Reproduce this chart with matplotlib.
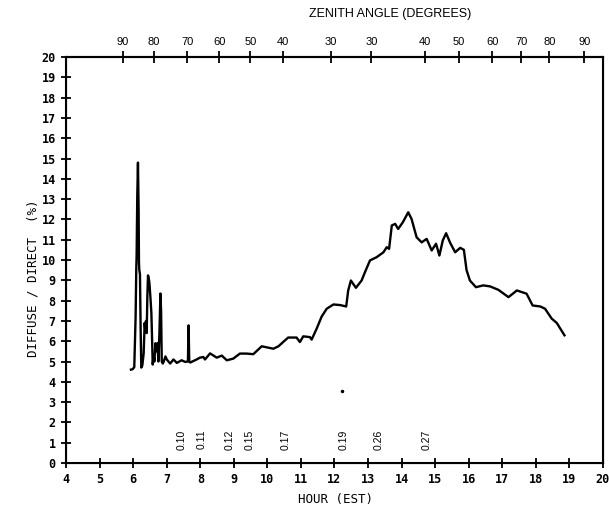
import matplotlib
matplotlib.use("Agg")
import matplotlib.pyplot as plt

# diffuse/direct ratio trace (hour EST, percent)
hours = [5.93, 5.98, 6.03, 6.07, 6.09, 6.10, 6.12, 6.14, 6.16, 6.17, 6.18, 6.20, 6.22, 6.24,
         6.27, 6.31, 6.34, 6.36, 6.38, 6.40, 6.42, 6.44, 6.46, 6.48, 6.51, 6.54, 6.56, 6.58,
         6.61, 6.63, 6.66, 6.69, 6.72, 6.75, 6.78, 6.81, 6.83, 6.85, 6.88, 6.91, 6.96, 7.00,
         7.05, 7.10, 7.20, 7.30, 7.44, 7.55, 7.63, 7.65, 7.67, 7.70, 7.89, 7.99, 8.09, 8.14,
         8.29, 8.49, 8.64, 8.79, 8.98, 9.18, 9.38, 9.58, 9.83, 10.03, 10.18, 10.33, 10.47,
         10.62, 10.87, 10.97, 11.07, 11.27, 11.32, 11.47, 11.62, 11.77, 11.97, 12.17, 12.35,
         12.41, 12.49, 12.64, 12.81, 12.91, 13.06, 13.26, 13.46, 13.56, 13.63, 13.71, 13.81,
         13.90, 14.04, 14.20, 14.30, 14.45, 14.60, 14.75, 14.90, 15.03, 15.13, 15.23, 15.33,
         15.45, 15.60, 15.75, 15.86, 15.94, 16.04, 16.22, 16.44, 16.64, 16.89, 17.19, 17.44,
         17.73, 17.91, 18.14, 18.28, 18.48, 18.63, 18.86]
ratio = [4.60, 4.62, 4.72, 7.2, 9.6, 10.2, 13.2, 14.8, 12.4, 9.9, 9.5, 9.3, 6.6, 4.7,
         4.8, 5.4, 6.9, 6.5, 7.0, 6.4, 8.2, 9.24, 9.1, 8.9, 8.2, 7.4, 6.2, 4.85,
         5.3, 5.0, 5.9, 5.5, 5.9, 5.0, 6.4, 8.35, 7.5, 5.0, 4.9, 5.0, 5.25, 5.1,
         5.0, 4.9, 5.1, 4.93, 5.06, 4.98, 5.0, 6.78, 5.0, 4.95, 5.1, 5.19, 5.22, 5.1,
         5.4, 5.19, 5.29, 5.06, 5.14, 5.39, 5.39, 5.36, 5.75, 5.68, 5.63, 5.75, 5.96,
         6.18, 6.18, 5.96, 6.24, 6.2, 6.08, 6.62, 7.22, 7.6, 7.81, 7.78, 7.71,
         8.5, 8.99, 8.63, 8.99, 9.4, 9.98, 10.14, 10.38, 10.63, 10.55, 11.7, 11.78,
         11.53, 11.86, 12.35, 12.02, 11.12, 10.87, 11.04, 10.47, 10.8, 10.22, 10.96, 11.32,
         10.85, 10.38, 10.6, 10.5, 9.5, 8.99, 8.66, 8.75, 8.7, 8.53, 8.17, 8.5,
         8.34, 7.76, 7.71, 7.6, 7.11, 6.9, 6.29]

# stray speck on the original sheet
speck_hour = [12.23]
speck_ratio = [3.55]

# zenith angle scale along the top
zenith_hours = [5.685, 6.62, 7.61, 8.56, 9.49, 10.47, 11.90, 13.10, 14.69, 15.72, 16.71,
                17.57, 18.41, 19.45]
zenith_labels = ["90", "80", "70", "60", "50", "40", "30", "30", "40", "50", "60",
                 "70", "80", "90"]

# small rotated annotations near the bottom
note_hours = [7.44, 8.04, 8.88, 9.48, 10.53, 12.26, 13.31, 14.75]
note_labels = ["0.10", "0.11", "0.12", "0.15", "0.17", "0.19", "0.26", "0.27"]

fig = plt.figure(figsize=(6.09, 5.11), dpi=100)
ax = fig.add_axes([66.2 / 609, 1 - 463 / 511, (602.7 - 66.2) / 609, (463 - 57) / 511])

ax.plot(hours, ratio, color="black", lw=1.7)
ax.plot(speck_hour, speck_ratio, "o", color="black", ms=1.5)
ax.set_xlim(4, 20)
ax.set_ylim(0, 20)

for sp in ax.spines.values():
    sp.set_linewidth(1.5)

ax.set_xticks(range(4, 21))
ax.set_yticks(range(0, 21))
ax.tick_params(direction="inout", length=7, width=1.3, labelsize=8.5, pad=4)
for lab in ax.get_xticklabels() + ax.get_yticklabels():
    lab.set_fontweight("bold")
    lab.set_family("DejaVu Sans Mono")

top = ax.twiny()
top.set_xlim(4, 20)
top.set_xticks(zenith_hours)
top.set_xticklabels(zenith_labels, fontsize=8, family="Liberation Sans")
top.tick_params(direction="inout", length=8, width=1.3, pad=3)
top.spines["top"].set_linewidth(1.5)

for h, t in zip(note_hours, note_labels):
    ax.text(h, 1.15, t, rotation=90, ha="center", va="center", fontsize=7.5,
            family="Liberation Sans")

fig.text(390 / 609, 1 - 14 / 511, "ZENITH ANGLE (DEGREES)", ha="center", va="center",
         fontsize=9, family="Liberation Sans")
fig.text(336 / 609, 1 - 500 / 511, "HOUR (EST)", ha="center", va="center",
         fontsize=9, family="DejaVu Sans Mono")
fig.text(33 / 609, 1 - 278 / 511, "DIFFUSE / DIRECT  (%)", ha="center", va="center",
         rotation=90, fontsize=9, family="DejaVu Sans Mono")

fig.savefig("out.png", dpi=100)
